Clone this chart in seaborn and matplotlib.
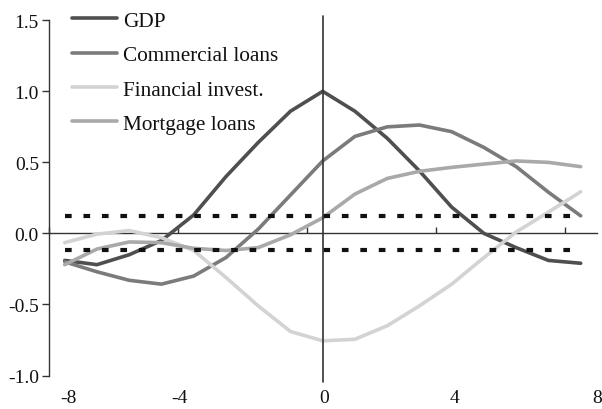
import matplotlib
matplotlib.use("Agg")
import matplotlib.pyplot as plt
import seaborn as sns
import pandas as pd
from matplotlib.ticker import FuncFormatter

# ---- data ----
lags = list(range(-8, 9))
gdp = [-0.19, -0.22, -0.15, -0.05, 0.13, 0.40, 0.64, 0.86, 1.00, 0.86, 0.67, 0.44, 0.185, 0.00, -0.10, -0.19, -0.21]
commercial = [-0.20, -0.27, -0.33, -0.357, -0.30, -0.17, 0.03, 0.27, 0.51, 0.683, 0.75, 0.763, 0.716, 0.605, 0.47, 0.29, 0.124]
financial = [-0.065, -0.005, 0.02, -0.03, -0.12, -0.31, -0.51, -0.69, -0.756, -0.745, -0.65, -0.51, -0.357, -0.17, 0.01, 0.15, 0.293]
mortgage = [-0.22, -0.11, -0.06, -0.065, -0.105, -0.12, -0.10, -0.01, 0.11, 0.277, 0.387, 0.437, 0.465, 0.488, 0.51, 0.50, 0.47]
series_names = ["GDP", "Commercial loans", "Financial invest.", "Mortgage loans"]
band_x = [-8, 8]
band_upper = [0.12, 0.12]
band_lower = [-0.12, -0.12]
ytick_values = [-1.0, -0.5, 0.0, 0.5, 1.0, 1.5]
xtick_labels = ["-8", "-4", "0", "4", "8"]

# ---- styling ----
sns.set_theme(style="white")
plt.rcParams["font.family"] = ["Liberation Serif", "DejaVu Serif"]
colors = ["#4f4f4f", "#7b7b7b", "#d3d3d3", "#a9a9a9"]
axis_col = "#333333"

df = pd.DataFrame({
    "lag": lags * 4,
    "value": gdp + commercial + financial + mortgage,
    "series": sum([[n] * len(lags) for n in series_names], []),
})

fig = plt.figure(figsize=(6.02, 4.10), dpi=100)
ax = fig.add_axes([48.6 / 602, 1 - 376.5 / 410, 548.2 / 602, 355.2 / 410])

sns.lineplot(data=df, x="lag", y="value", hue="series", hue_order=series_names,
             palette=colors, linewidth=2.6, ax=ax, legend=True)

# confidence band lines
for yb in (band_upper, band_lower):
    ax.plot(band_x, yb, color="#111111", linewidth=3.0, dashes=(1.6, 2.83),
            solid_capstyle="butt", zorder=5)

# vertical line at 0
ax.axvline(0, ymin=-0.018, ymax=1.012, color=axis_col, linewidth=1.2,
           clip_on=False, zorder=6)

ax.set_xlim(-8.5, 8.5)
ax.set_ylim(-1.0, 1.5)
ax.set_xlabel("")
ax.set_ylabel("")

# y axis
ax.set_yticks(ytick_values)
ax.yaxis.set_major_formatter(FuncFormatter(lambda v, p: f"{v:.1f}"))
ax.tick_params(axis="y", direction="out", length=5, width=1, color=axis_col,
               pad=2, labelsize=14, labelcolor="#111111", left=True)
for s in ("top", "right", "bottom"):
    ax.spines[s].set_visible(False)
ax.spines["left"].set_color(axis_col)
ax.spines["left"].set_linewidth(1.0)

# x labels at the bottom (no tick marks)
ax.set_xticks([-7.9, -4.45, 0.05, 4.1, 8.5])
ax.set_xticklabels(xtick_labels)
ax.tick_params(axis="x", length=0, pad=10, labelsize=14, labelcolor="#111111", bottom=True)

# zero axis line with upward tick marks
sec = ax.secondary_xaxis(0.4)
sec.set_xticks([-8.5, -4.5, -0.5, 3.5, 7.5])
sec.set_xticklabels([])
sec.tick_params(axis="x", direction="in", length=4, width=1, color=axis_col)
sec.spines["bottom"].set_color(axis_col)
sec.spines["bottom"].set_linewidth(1.0)

# legend
handles, labels = ax.get_legend_handles_labels()
if ax.get_legend() is not None:
    ax.get_legend().remove()
for h in handles:
    h.set_linewidth(2.6)
fig.legend(handles, labels, loc="upper left", bbox_to_anchor=(72 / 602, 1 - 12 / 410),
           frameon=False, fontsize=15.3, handlelength=2.1, handletextpad=0.3,
           labelspacing=0.68, borderpad=0, borderaxespad=0, labelcolor="#111111")

fig.savefig("out.png", dpi=100)
